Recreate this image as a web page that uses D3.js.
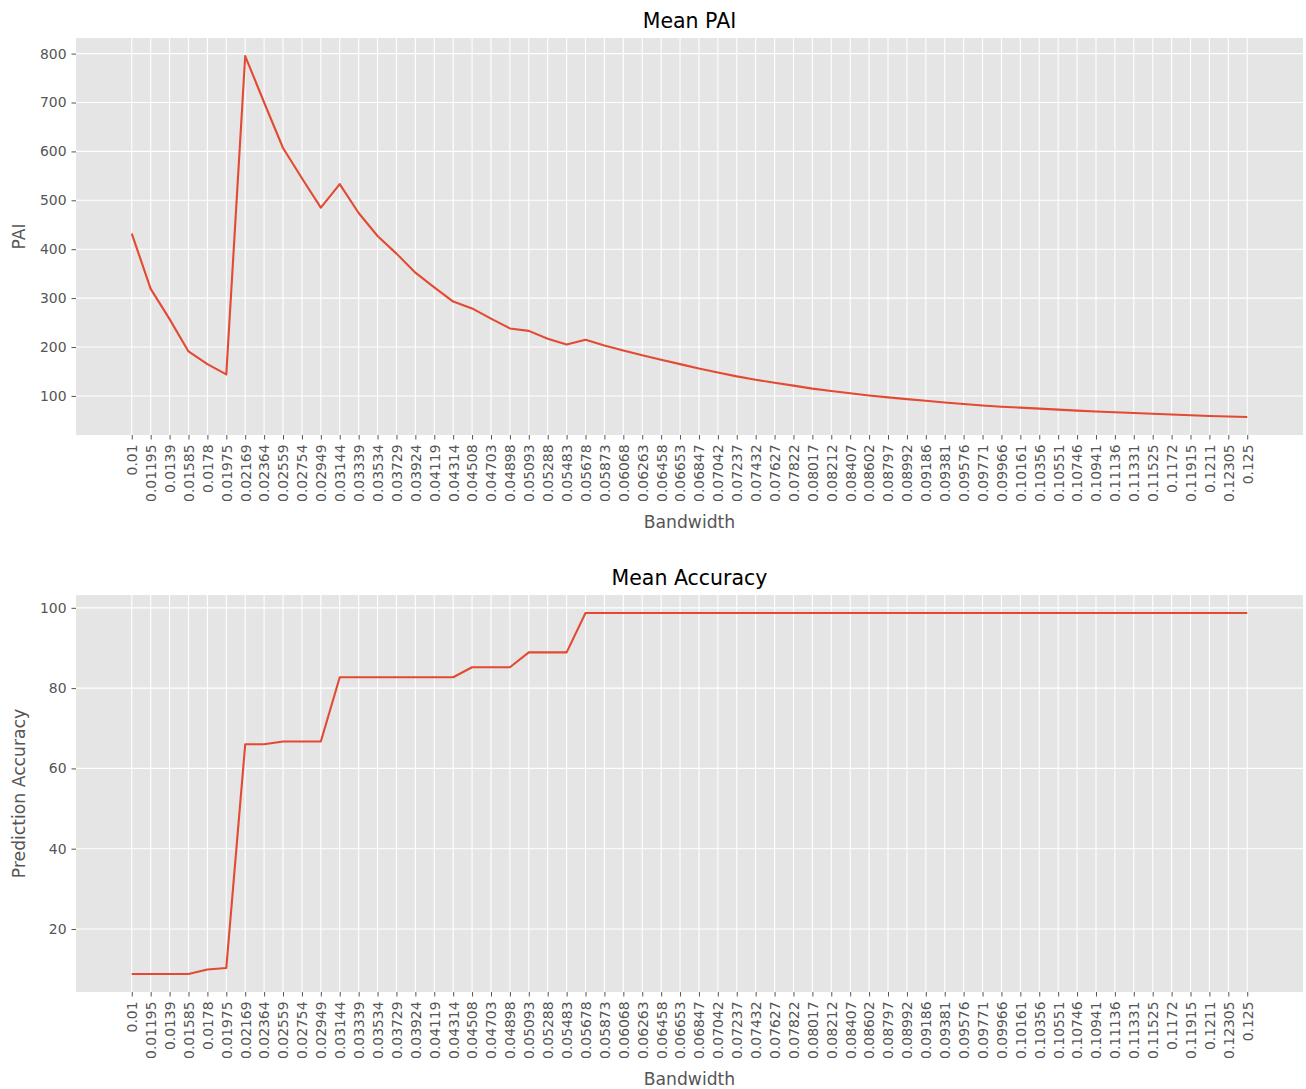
<!DOCTYPE html>
<html>
<head>
<meta charset="utf-8">
<script src="https://cdn.jsdelivr.net/npm/d3@7"></script>
<style>
  html, body { margin: 0; padding: 0; background: #ffffff; }
  svg { display: block; font-family: "DejaVu Sans", sans-serif; }
  svg text { font-family: "DejaVu Sans", sans-serif; }
</style>
</head>
<body>
<svg id="chart" width="1306" height="1089"></svg>
<script>
// Bandwidth categories (shared x axis of both panels)
const bandwidths = [
  "0.01", "0.01195", "0.0139", "0.01585", "0.0178", "0.01975", "0.02169", "0.02364",
  "0.02559", "0.02754", "0.02949", "0.03144", "0.03339", "0.03534", "0.03729", "0.03924",
  "0.04119", "0.04314", "0.04508", "0.04703", "0.04898", "0.05093", "0.05288", "0.05483",
  "0.05678", "0.05873", "0.06068", "0.06263", "0.06458", "0.06653", "0.06847", "0.07042",
  "0.07237", "0.07432", "0.07627", "0.07822", "0.08017", "0.08212", "0.08407", "0.08602",
  "0.08797", "0.08992", "0.09186", "0.09381", "0.09576", "0.09771", "0.09966", "0.10161",
  "0.10356", "0.10551", "0.10746", "0.10941", "0.11136", "0.11331", "0.11525", "0.1172",
  "0.11915", "0.1211", "0.12305", "0.125"
];

// Mean PAI per bandwidth
const meanPAI = [
  432, 319, 257, 191, 165, 144, 795, 700, 607, 545,
  485, 533, 474, 427, 391, 352, 322, 293, 279, 258,
  238, 233, 217, 205, 215, 203, 193, 183, 174, 165,
  156, 148, 140, 133, 127, 121, 115, 110, 105.5, 101,
  97, 93.5, 90, 86.5, 83.5, 80.5, 78, 76, 74, 72,
  70, 68, 66.5, 65, 63.5, 62, 60.5, 59, 58, 57
];

// Mean prediction accuracy per bandwidth
const meanAccuracy = [
  8.8, 8.8, 8.8, 8.8, 9.9, 10.3, 66.0, 66.0, 66.7, 66.7,
  66.7, 82.7, 82.7, 82.7, 82.7, 82.7, 82.7, 82.7, 85.2, 85.2,
  85.2, 88.9, 88.9, 88.9, 98.7, 98.7, 98.7, 98.7, 98.7, 98.7,
  98.7, 98.7, 98.7, 98.7, 98.7, 98.7, 98.7, 98.7, 98.7, 98.7,
  98.7, 98.7, 98.7, 98.7, 98.7, 98.7, 98.7, 98.7, 98.7, 98.7,
  98.7, 98.7, 98.7, 98.7, 98.7, 98.7, 98.7, 98.7, 98.7, 98.7
];

const paiTicks = [100, 200, 300, 400, 500, 600, 700, 800];
const accuracyTicks = [20, 40, 60, 80, 100];

const FONT = "'DejaVu Sans', sans-serif";
const svg = d3.select("#chart");

function drawPanel(cfg) {
  const { top, bottom, left, right, values, ticks, title, yLabel } = cfg;

  // category axis with 5% margins on either side
  const x = d3.scalePoint()
    .domain(bandwidths)
    .range([left, right])
    .padding(0.05 * (bandwidths.length - 1));

  const [lo, hi] = d3.extent(values);
  const pad = (hi - lo) * 0.05;
  const y = d3.scaleLinear().domain([lo - pad, hi + pad]).range([bottom, top]);

  const g = svg.append("g");

  g.append("rect")
    .attr("x", left).attr("y", top)
    .attr("width", right - left).attr("height", bottom - top)
    .attr("fill", "#E5E5E5");

  // grid
  g.append("g").selectAll("line").data(bandwidths).join("line")
    .attr("x1", d => x(d)).attr("x2", d => x(d))
    .attr("y1", top).attr("y2", bottom)
    .attr("stroke", "#ffffff").attr("stroke-width", 1.1);
  g.append("g").selectAll("line").data(ticks).join("line")
    .attr("x1", left).attr("x2", right)
    .attr("y1", d => y(d)).attr("y2", d => y(d))
    .attr("stroke", "#ffffff").attr("stroke-width", 1.1);

  // x axis
  const xAxis = g.append("g")
    .attr("transform", `translate(0,${bottom})`)
    .call(d3.axisBottom(x).tickSize(4.5).tickPadding(5));
  xAxis.attr("font-family", FONT);
  xAxis.select(".domain").remove();
  xAxis.selectAll(".tick line").attr("stroke", "#555555");
  xAxis.selectAll(".tick text")
    .attr("fill", "#555555")
    .style("font-family", FONT)
    .style("font-size", "13.9px")
    .attr("transform", "rotate(-90)")
    .attr("text-anchor", "end")
    .attr("x", -9.5)
    .attr("y", 0)
    .attr("dy", "0.35em");

  // y axis
  const yAxis = g.append("g")
    .attr("transform", `translate(${left},0)`)
    .call(d3.axisLeft(y).tickValues(ticks).tickSize(4.5).tickPadding(5).tickFormat(d3.format("d")));
  yAxis.attr("font-family", FONT);
  yAxis.select(".domain").remove();
  yAxis.selectAll(".tick line").attr("stroke", "#555555");
  yAxis.selectAll(".tick text")
    .attr("fill", "#555555")
    .style("font-family", FONT)
    .style("font-size", "13.9px");

  // series line
  g.append("path")
    .datum(values)
    .attr("fill", "none")
    .attr("stroke", "#E24A33")
    .attr("stroke-width", 2.1)
    .attr("stroke-linejoin", "round")
    .attr("d", d3.line().x((d, i) => x(bandwidths[i])).y(d => y(d)));

  // titles and labels
  g.append("text")
    .attr("x", (left + right) / 2).attr("y", top - 10)
    .attr("text-anchor", "middle")
    .attr("fill", "#000000")
    .style("font-family", FONT)
    .style("font-size", "20.5px")
    .text(title);

  g.append("text")
    .attr("x", (left + right) / 2).attr("y", bottom + 93)
    .attr("text-anchor", "middle")
    .attr("fill", "#555555")
    .style("font-family", FONT)
    .style("font-size", "17.2px")
    .text("Bandwidth");

  g.append("text")
    .attr("transform", `translate(25,${(top + bottom) / 2}) rotate(-90)`)
    .attr("text-anchor", "middle")
    .attr("fill", "#555555")
    .style("font-family", FONT)
    .style("font-size", "17.2px")
    .text(yLabel);
}

drawPanel({
  top: 38, bottom: 435, left: 76, right: 1303,
  values: meanPAI, ticks: paiTicks,
  title: "Mean PAI", yLabel: "PAI"
});

drawPanel({
  top: 595, bottom: 992, left: 76, right: 1303,
  values: meanAccuracy, ticks: accuracyTicks,
  title: "Mean Accuracy", yLabel: "Prediction Accuracy"
});
</script>
</body>
</html>
